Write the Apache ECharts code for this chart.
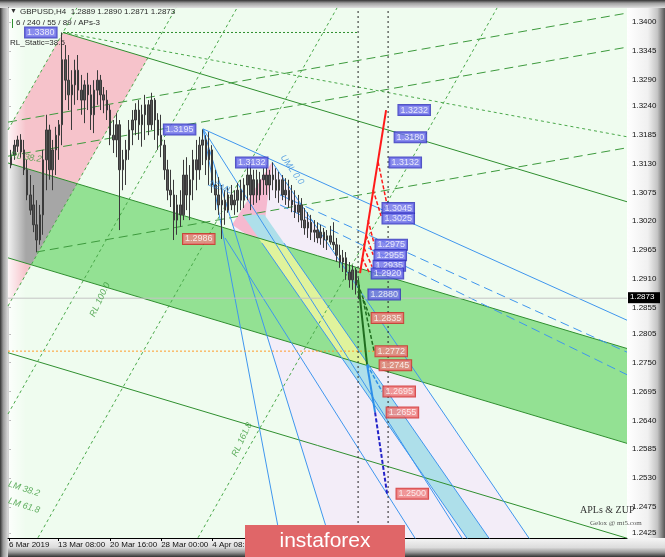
<!DOCTYPE html>
<html><head><meta charset="utf-8">
<script src="https://cdn.jsdelivr.net/npm/echarts@6.0.0/dist/echarts.min.js"></script>
<style>html,body{margin:0;padding:0;overflow:hidden;background:#ececec}#chart{width:665px;height:557px}</style>
</head><body><div id="chart"></div>
<script>
// ================= DATA =================
const header = 'GBPUSD,H4  1.2889 1.2890 1.2871 1.2873';
const subHeader = '6 / 240 / 55 / 89 / APs-3';
const staticText = 'RL_Static=38.5';
const lastPrice = 1.2873;
const firstSlot = 1;            // candles occupy slots 1..110 (one slot = two H4 bars)
// [open, close, low, high]
const candles = [
[1.3127,1.3146,1.3121,1.3156],[1.3146,1.3165,1.3137,1.3175],[1.3163,1.3175,1.3152,1.3183],[1.3175,1.3152,1.3141,1.3186],
[1.3156,1.3118,1.3108,1.3175],[1.3118,1.3070,1.3060,1.3137],[1.3070,1.3041,1.3032,1.3108],[1.3051,1.3013,1.2999,1.3089],
[1.3013,1.2984,1.2961,1.3060],[1.2984,1.3032,1.2975,1.3051],[1.3032,1.3137,1.2994,1.3156],[1.3137,1.3194,1.3079,1.3223],
[1.3194,1.3118,1.3099,1.3204],[1.3118,1.3156,1.3079,1.3175],[1.3156,1.3184,1.3108,1.3200],[1.3184,1.3204,1.3137,1.3213],
[1.3204,1.3328,1.3165,1.3380],[1.3328,1.3289,1.3251,1.3356],[1.3289,1.3261,1.3232,1.3337],[1.3261,1.3280,1.3194,1.3308],
[1.3280,1.3308,1.3242,1.3328],[1.3308,1.3270,1.3251,1.3337],[1.3270,1.3251,1.3223,1.3299],[1.3251,1.3280,1.3207,1.3289],
[1.3280,1.3261,1.3232,1.3303],[1.3261,1.3223,1.3194,1.3280],[1.3223,1.3270,1.3188,1.3289],[1.3270,1.3289,1.3242,1.3308],
[1.3289,1.3261,1.3232,1.3299],[1.3261,1.3251,1.3226,1.3276],[1.3251,1.3232,1.3213,1.3270],[1.3232,1.3184,1.3165,1.3242],
[1.3184,1.3175,1.3150,1.3213],[1.3175,1.3204,1.3142,1.3226],[1.3204,1.3118,1.3003,1.3213],[1.3118,1.3137,1.3079,1.3156],
[1.3137,1.3156,1.3089,1.3175],[1.3156,1.3194,1.3137,1.3213],[1.3194,1.3213,1.3165,1.3232],[1.3213,1.3232,1.3184,1.3245],
[1.3232,1.3204,1.3175,1.3251],[1.3204,1.3223,1.3162,1.3242],[1.3223,1.3242,1.3175,1.3261],[1.3242,1.3204,1.3184,1.3251],
[1.3204,1.3251,1.3194,1.3265],[1.3251,1.3213,1.3175,1.3255],[1.3213,1.3184,1.3156,1.3226],[1.3184,1.3165,1.3142,1.3223],
[1.3165,1.3118,1.3099,1.3175],[1.3118,1.3079,1.3060,1.3137],[1.3079,1.3070,1.3047,1.3118],[1.3070,1.3022,1.2984,1.3099],
[1.3022,1.3051,1.2994,1.3070],[1.3051,1.3032,1.3009,1.3079],[1.3032,1.3108,1.3022,1.3137],[1.3108,1.3070,1.3041,1.3142],
[1.3070,1.3099,1.3022,1.3127],[1.3099,1.3137,1.3060,1.3156],[1.3137,1.3118,1.3079,1.3175],[1.3118,1.3165,1.3099,1.3181],
[1.3165,1.3175,1.3127,1.3195],[1.3175,1.3137,1.3108,1.3184],[1.3137,1.3156,1.3089,1.3190],[1.3156,1.3089,1.3074,1.3165],
[1.3089,1.3070,1.3041,1.3118],[1.3070,1.3051,1.3032,1.3104],[1.3051,1.3060,1.2986,1.3089],[1.3060,1.3041,1.3013,1.3079],
[1.3041,1.3070,1.3036,1.3085],[1.3070,1.3051,1.3041,1.3089],[1.3051,1.3060,1.3032,1.3079],[1.3060,1.3079,1.3037,1.3093],
[1.3079,1.3060,1.3041,1.3099],[1.3060,1.3089,1.3045,1.3102],[1.3089,1.3108,1.3060,1.3127],[1.3108,1.3070,1.3041,1.3131],
[1.3070,1.3099,1.3051,1.3118],[1.3099,1.3070,1.3055,1.3118],[1.3070,1.3099,1.3060,1.3114],[1.3099,1.3108,1.3070,1.3121],
[1.3108,1.3089,1.3070,1.3127],[1.3089,1.3108,1.3060,1.3118],[1.3108,1.3099,1.3079,1.3132],[1.3099,1.3079,1.3064,1.3121],
[1.3079,1.3099,1.3055,1.3114],[1.3099,1.3070,1.3060,1.3108],[1.3070,1.3079,1.3051,1.3102],[1.3079,1.3060,1.3045,1.3099],
[1.3060,1.3051,1.3037,1.3089],[1.3051,1.3037,1.3026,1.3079],[1.3037,1.3051,1.3018,1.3070],[1.3051,1.3022,1.3007,1.3064],
[1.3022,1.3007,1.2994,1.3045],[1.3007,1.3018,1.2988,1.3037],[1.3018,1.2999,1.2984,1.3032],[1.2999,1.3003,1.2980,1.3022],
[1.3003,1.2988,1.2978,1.3018],[1.2988,1.2999,1.2975,1.3013],[1.2999,1.2984,1.2969,1.3007],[1.2984,1.2992,1.2965,1.3003],
[1.2992,1.2980,1.2975,1.3011],[1.2980,1.2975,1.2965,1.3018],[1.2975,1.2955,1.2942,1.2988],[1.2955,1.2942,1.2931,1.2975],
[1.2942,1.2950,1.2923,1.2965],[1.2950,1.2923,1.2908,1.2961],[1.2923,1.2908,1.2893,1.2942],[1.2908,1.2927,1.2889,1.2936],
[1.2927,1.2898,1.2880,1.2931],[1.2898,1.2873,1.2871,1.2912]
];
const yTickValues = [1.3400,1.3345,1.3290,1.3240,1.3185,1.3130,1.3075,1.3020,1.2965,1.2910,1.2855,1.2805,1.2750,1.2695,1.2640,1.2585,1.2530,1.2475,1.2425];
const xTickSlots  = [0.3,15.7,32,48,64];
const xTickLabels = ['6 Mar 2019','13 Mar 08:00','20 Mar 16:00','28 Mar 00:00','4 Apr 08:00'];

// drawing objects: anchor points [slot, price]
const upperLine  = [[17.24,1.3380],[194,1.3057]];
const bandTop    = [[0,1.3131],[194,1.2777]];
const bandBottom = [[0,1.2950],[194,1.2596]];
const lowerLine  = [[0,1.2769],[194,1.2415]];
const pinkLeft   = [[0,1.3194],[17.24,1.3380]];
const pinkRight  = [[0,1.2858],[43.57,1.3328]];
const steepLine  = [[61.13,1.3196],[100.94,1.2412]];
const p1Line     = [[68.03,1.2988],[127.9,1.2412]];
const p2Line     = [[82.76,1.3133],[163.64,1.2412]];
const medianLine = [[61.13,1.3196],[142.63,1.2412]];
const cyanLeft   = [[79.62,1.2978],[144.2,1.2412]];
const cyanRight  = [[86.52,1.2978],[151.1,1.2412]];
const pink2Pts   = [[82.76,1.3133],[70.22,1.3013],[79.62,1.2975]];

const greenDashLines = [
  [[8.78,1.2961],[194,1.3160]],
  [[0,1.3144],[194,1.3352]],
  [[0,1.3209],[194,1.3417]]
];
const greenDotLines = [
  [[17.24,1.3380],[194,1.3181]],
  [[0,1.3194],[21.6,1.3427]],
  [[0,1.2858],[52.66,1.3427]],
  [[0,1.2652],[71.79,1.3427]],
  [[9.40,1.2416],[103.13,1.3427]],
  [[59.56,1.2416],[153.29,1.3427]]
];
const blueLines = [
  [[61.13,1.3196],[194,1.2831]],
  [[61.13,1.3196],[85.27,1.2416]],
  steepLine, p1Line, p2Line, medianLine, cyanLeft, cyanRight
];
const blueDashLines = [
  [[85.27,1.3070],[194,1.2770]],
  [[85.27,1.3051],[194,1.2727]]
];
const level1380 = [[17.24,1.3380],[109.72,1.3380]];
const level1772 = [[0,1.2772],[114.7,1.2772]];
const nowLines  = [109.72, 119.12];

// ZUP projections
const zupRedMain  = [[110.34,1.2921],[118.5,1.3232]];
const zupRedDash  = [
  [[115.99,1.3133],[118.81,1.3051]],
  [[114.42,1.3080],[116.93,1.3030]],
  [[112.85,1.3022],[114.73,1.2977]],
  [[112.23,1.2994],[114.42,1.2956]],
  [[111.6,1.2969],[114.11,1.2933]],
  [[110.97,1.2950],[113.48,1.2919]]
];
const zupGreenMain = [[109.72,1.2908],[112.54,1.2746]];
const zupGreenDash = [
  [[110.34,1.2889],[113.48,1.2835]],
  [[111.29,1.2870],[114.73,1.2772]]
];
const zupBlueMain = [[112.54,1.2746],[115.05,1.2655]];
const zupBlueDash = [[[112.54,1.2746],[117.24,1.2695]]];
const zupNavyDash = [[115.05,1.2655],[118.81,1.2500]];

const zupLabelsBlue = [[121.9,1.3232],[120.7,1.3180],[119.1,1.3132],[116.9,1.3045],[116.9,1.3025],[114.7,1.2975],[114.4,1.2955],[114.1,1.2935],[113.5,1.2920],[112.5,1.2880]];
const zupLabelsRed  = [[113.5,1.2835],[114.7,1.2772],[116.0,1.2745],[117.2,1.2695],[118.2,1.2655],[121.3,1.2500]];
const pivotLabelsBlue = [[15.7,1.3380],[59.2,1.3195],[81.8,1.3132]];
const pivotLabelsRed  = [[65.2,1.2986]];

const annotations = [
  ['1/2ML',   [66.46,1.3085], -20, '#3d8fe0'],
  ['UML 0.0', [89.03,1.3118], -55, '#3d8fe0'],
  ['RL 38.2', [5.64,1.3142], -8,  '#3a9a3a'],
  ['LM 38.2', [5.02,1.2509], -18, '#3a9a3a'],
  ['LM 61.8', [5.02,1.2477], -18, '#3a9a3a'],
  ['RL 100.0',[28.84,1.2870], 65, '#3a9a3a'],
  ['RL 161.8',[73.35,1.2603], 65, '#3a9a3a']
];

// ================= HELPERS =================
const X_MAX = 194, Y_MIN = 1.241545, Y_MAX = 1.342671;
function lineAt(l, s){ const [a,b]=l; return a[1]+(b[1]-a[1])*(s-a[0])/(b[0]-a[0]); }
function slotAt(l, p){ const [a,b]=l; return a[0]+(b[0]-a[0])*(p-a[1])/(b[1]-a[1]); }
function cross(l1,l2){
  const [[x1,y1],[x2,y2]]=l1, [[x3,y3],[x4,y4]]=l2;
  const d=(x1-x2)*(y3-y4)-(y1-y2)*(x3-x4);
  const t=((x1-x3)*(y3-y4)-(y1-y3)*(x3-x4))/d;
  return [x1+t*(x2-x1), y1+t*(y2-y1)];
}
function poly(pts, color, z){
  return {type:'custom', silent:true, clip:true, z, data:[[pts[0][0],pts[0][1]]], animation:false,
    renderItem:(params, api)=>({type:'polygon', shape:{points:pts.map(p=>api.coord(p))}, style:{fill:color}})};
}
function lines(list, style, z){
  return list.map(l=>({type:'line', data:l, symbol:'none', silent:true, z, clip:true, animation:false, lineStyle:style}));
}
const FONT = 'Liberation Sans';

const polygons = {
  lavender: [p2Line[0], p2Line[1], steepLine[1], [slotAt(steepLine,1.3013),1.3013]],
  pink2: pink2Pts,
  cyan: [[slotAt(cyanLeft,1.3032),1.3032],[slotAt(cyanRight,1.3032),1.3032], cyanRight[1], cyanLeft[1]],
  band: [[0,lineAt(bandTop,0)],[X_MAX,lineAt(bandTop,X_MAX)],[X_MAX,lineAt(bandBottom,X_MAX)],[0,lineAt(bandBottom,0)]],
  yellow: [cross(cyanLeft,bandTop), cross(cyanRight,bandTop), cross(cyanRight,bandBottom), cross(cyanLeft,bandBottom)],
  pink: [upperLine[0], cross(upperLine,pinkRight), [0,lineAt(pinkRight,0)], [0,lineAt(pinkLeft,0)]],
  gray: [[0,lineAt(bandTop,0)], cross(bandTop,pinkRight), cross(bandBottom,pinkRight), [0,lineAt(bandBottom,0)]]
};

const series = [];
series.push(poly(polygons.lavender,'#f3edf8',1));
series.push(poly(polygons.pink2,'#f6b9cf',1));
series.push(poly(polygons.cyan,'#aedfea',1));
series.push(poly(polygons.band,'#93e193',1));
series.push(poly(polygons.yellow,'#e0f39c',1));
series.push(poly(polygons.pink,'#f6c3cb',1));
series.push(poly(polygons.gray,'#a6a6a6',1));

series.push(...lines([upperLine,bandTop,bandBottom,lowerLine],{color:'#2f8f2f',width:1},2));
series.push(...lines(greenDashLines,{color:'#3d9a3d',width:1,type:[9,5]},2));
series.push(...lines(greenDotLines,{color:'#4aa84a',width:1,type:[3,3]},2));
series.push(...lines(blueLines,{color:'#3f96ee',width:1},2));
series.push(...lines(blueDashLines,{color:'#3f96ee',width:1,type:[9,5]},2));
series.push(...lines([level1380],{color:'#2f8f2f',width:1,type:[2,2]},2));
series.push(...lines([level1772],{color:'#ff9a2a',width:1,type:[2,2]},2));
series.push(...lines([[[0,lastPrice],[X_MAX,lastPrice]]],{color:'#c4c4c4',width:1},2));
series.push(...lines(nowLines.map(s=>[[s,Y_MIN],[s,Y_MAX]]),{color:'#222',width:1,type:[2,3]},2));

series.push({
  type:'candlestick', z:3, silent:true, animation:false, barWidth:2, barMaxWidth:2,
  encode:{x:0,y:[1,2,3,4]},
  data: candles.map((c,i)=>[firstSlot+i, c[0], c[1], c[2], c[3]]),
  itemStyle:{color:'#555',color0:'#555',borderColor:'#3a3a3a',borderColor0:'#3a3a3a',borderWidth:1}
});

series.push(...lines([zupRedMain],{color:'#ff1a1a',width:2},4));
series.push(...lines(zupRedDash,{color:'#ff1a1a',width:1.5,type:[4,2]},4));
series.push(...lines([zupGreenMain],{color:'#1f6e1f',width:2},4));
series.push(...lines(zupGreenDash,{color:'#1f6e1f',width:1.5,type:[4,2]},4));
series.push(...lines([zupBlueMain],{color:'#2e8fe8',width:2},4));
series.push(...lines(zupBlueDash,{color:'#2e8fe8',width:1.5,type:[4,2]},4));
series.push(...lines([zupNavyDash],{color:'#2323c8',width:2,type:[4,2]},4));

function labelSeries(data, pos, bg, border){
  return {type:'scatter', z:5, silent:true, animation:false, symbolSize:1, itemStyle:{color:'rgba(0,0,0,0)'},
    data, label:{show:true, position:pos, distance:1, formatter:p=>p.value[1].toFixed(4),
      fontFamily:FONT, fontSize:9, color:'#fff', backgroundColor:bg, borderColor:border, borderWidth:1, padding:[1,2,0,2]}};
}
series.push(labelSeries(zupLabelsBlue,'right','#6f6fec','#2a2ab8'));
series.push(labelSeries(zupLabelsRed,'right','#ef8080','#d02424'));
series.push(labelSeries(pivotLabelsBlue,'left','#6f6fec','#2a2ab8'));
series.push(labelSeries(pivotLabelsRed,'left','#ef8080','#d02424'));

series.push({type:'scatter', z:4, silent:true, animation:false, symbolSize:0,
  data: annotations.map(a=>({value:a[1], label:{show:true, position:'inside', formatter:a[0], rotate:a[2], color:a[3],
    fontFamily:FONT, fontSize:9, fontStyle:'italic'}}))});

const chart = echarts.init(document.getElementById('chart'));
chart.setOption({
  animation:false,
  backgroundColor:'#f2f2f2',
  grid:{left:8, right:38, top:8, bottom:19, show:true, backgroundColor:'#effcef', borderWidth:0},
  xAxis:{type:'value', min:0, max:X_MAX, splitLine:{show:false},
    axisLine:{show:true, lineStyle:{color:'#000'}},
    axisTick:{show:true, customValues:xTickSlots, length:3, lineStyle:{color:'#000'}},
    axisLabel:{customValues:xTickSlots, formatter:v=>{const i=xTickSlots.findIndex(s=>Math.abs(s-v)<1e-6);return i<0?'':xTickLabels[i];},
      align:'left', margin:3, fontFamily:FONT, fontSize:8, color:'#111'}},
  yAxis:{type:'value', position:'right', min:Y_MIN, max:Y_MAX, scale:true, splitLine:{show:false},
    axisLine:{show:true, lineStyle:{color:'#000'}},
    axisTick:{show:true, customValues:yTickValues, length:3, lineStyle:{color:'#000'}},
    axisLabel:{customValues:yTickValues, formatter:v=>v.toFixed(4), margin:5, fontFamily:FONT, fontSize:8, color:'#111'}},
  series
});

// decorative frame + texts
const grad = (x,y,x2,y2,stops)=>new echarts.graphic.LinearGradient(x,y,x2,y2,stops.map(s=>({offset:s[0],color:s[1]})));
const yLast = chart.convertToPixel({gridIndex:0},[X_MAX,lastPrice])[1];
chart.setOption({graphic:[
  {type:'rect', z:-10, shape:{x:627,y:0,width:38,height:557}, style:{fill:grad(0,0,1,0,[[0,'#ffffff'],[0.55,'#f0f0f0'],[0.8,'#c4c4c4'],[1,'#555']])}},
  {type:'rect', z:-10, shape:{x:0,y:538,width:665,height:19}, style:{fill:grad(0,0,0,1,[[0,'#f6f6f6'],[0.5,'#dcdcdc'],[0.75,'#9a9a9a'],[1,'#333']])}},
  {type:'rect', z:-9, shape:{x:0,y:0,width:8,height:557}, style:{fill:grad(0,0,1,0,[[0,'#333'],[0.4,'#9a9a9a'],[1,'#dadada']])}},
  {type:'rect', z:-9, shape:{x:0,y:0,width:665,height:8}, style:{fill:grad(0,0,0,1,[[0,'#333'],[0.4,'#a0a0a0'],[1,'#e0e0e0']])}},
  {type:'rect', z:1.5, silent:true, shape:{x:8,y:8,width:18,height:530}, style:{fill:grad(0,0,1,0,[[0,'rgba(255,255,255,0.85)'],[1,'rgba(255,255,255,0)']])}},
  {type:'text', z:50, x:10, y:8, style:{text:'▼', fontSize:7, fill:'#333', fontFamily:FONT}},
  {type:'text', z:50, x:20, y:8, style:{text:header, fontSize:8, fill:'#2a2a2a', fontFamily:FONT}},
  {type:'rect', z:50, shape:{x:12,y:19,width:1,height:9}, style:{fill:'#2f8f2f'}},
  {type:'text', z:50, x:16, y:19, style:{text:subHeader, fontSize:8, fill:'#2a2a2a', fontFamily:FONT}},
  {type:'text', z:50, x:10, y:39, style:{text:staticText, fontSize:8, fill:'#2a2a2a', fontFamily:FONT}},
  {type:'text', z:50, x:580, y:505, style:{text:'APLs & ZUP', fontSize:10, fill:'#333', fontFamily:'Liberation Serif'}},
  {type:'text', z:50, x:590, y:520, style:{text:'Gelox @ mt5.com', fontSize:7, fill:'#555', fontFamily:'Liberation Serif'}},
  {type:'rect', z:60, shape:{x:628,y:yLast-6,width:32,height:11}, style:{fill:'#000'}},
  {type:'text', z:61, x:630, y:yLast-5, style:{text:lastPrice.toFixed(4), fontSize:8, fill:'#fff', fontFamily:FONT}},
  {type:'rect', z:100, shape:{x:245,y:525,width:160,height:32}, style:{fill:'#e06668'}},
  {type:'text', z:101, x:325, y:541, style:{text:'instaforex', fontSize:21, fill:'#fff', fontFamily:FONT, align:'center', verticalAlign:'middle'}}
]});
</script>
</body></html>
